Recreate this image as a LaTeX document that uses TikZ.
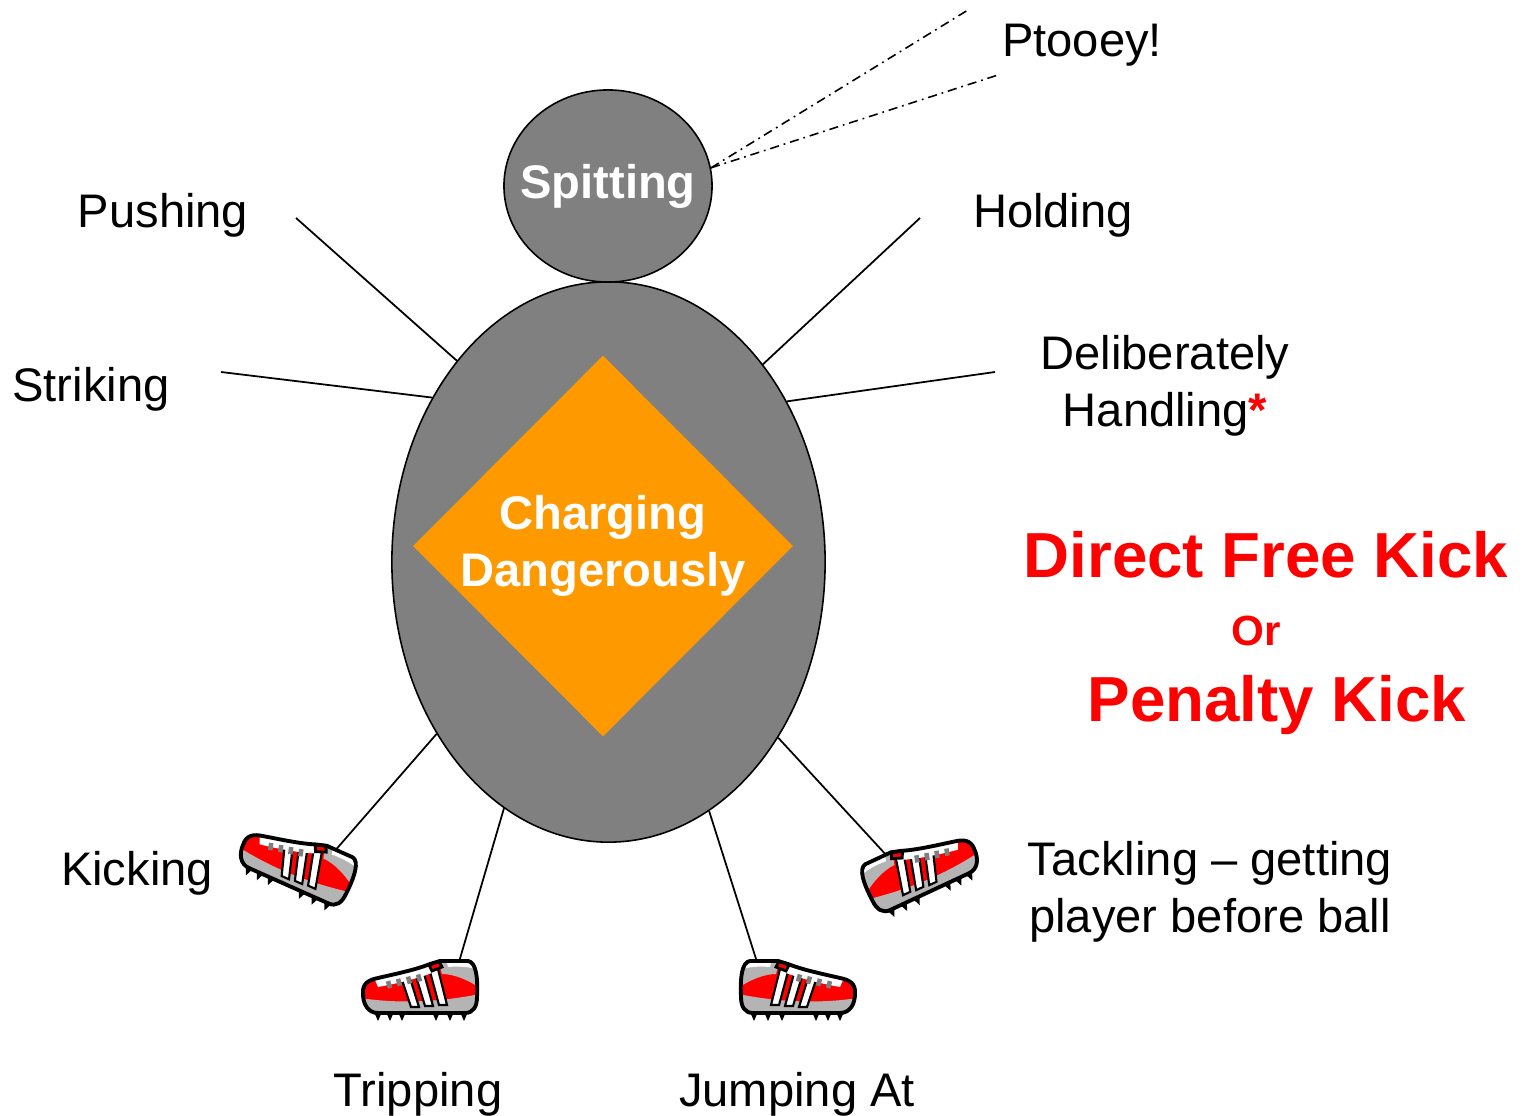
\documentclass[tikz,border=0pt]{standalone}
\usepackage{fontspec}
\setmainfont{Liberation Sans}
\usepackage{tikz}
\usetikzlibrary{shapes.geometric}

\definecolor{bodygrey}{HTML}{808080}
\definecolor{chargeorange}{HTML}{FF9900}
\definecolor{foulred}{HTML}{FF0000}
\definecolor{solegrey}{HTML}{B4B4B4}

\def\bootoutline{(-57,2) .. controls (-58,-8) and (-52,-12) .. (-42,-14)
    .. controls (-25,-18) and (-5,-22) .. (10,-28) -- (20,-31) -- (48,-31)
    .. controls (56,-30) and (58,-15) .. (57,5)
    .. controls (57,15) and (53,21) .. (45,21) -- (-42,21)
    .. controls (-52,21) and (-57,12) .. (-57,2) -- cycle}

\tikzset{
    blob/.style={ellipse, draw=black, fill=bodygrey, line width=0.45pt, inner sep=0pt},
    spoke/.style={line width=0.5pt},
    spit/.style={line width=0.45pt, dash pattern=on 2.6pt off 1.4pt on 0.5pt off 1.4pt},
    foul/.style={inner sep=0pt, align=center, font=\fontsize{13.4pt}{16.2pt}\selectfont},
    sanction/.style={inner sep=0pt, text=foulred, font=\fontsize{18.1pt}{20pt}\selectfont\bfseries},
    boot/.pic={
        \fill[foulred] \bootoutline;
        \begin{scope}
            \clip \bootoutline;
            % sole
            \fill[solegrey] (-60,6) .. controls (-20,12) and (20,10) .. (60,2) -- (60,30) -- (-60,30) -- cycle;
            % stripes
            \filldraw[fill=white, line width=0.6pt] (-19,-15) -- (-11,-17) -- (-1,15) -- (-9,15) -- cycle;
            \filldraw[fill=white, line width=0.6pt] (-5,-19) -- (3,-22) -- (13,14) -- (5,14) -- cycle;
            \filldraw[fill=white, line width=0.6pt] (9,-24) -- (17,-27) -- (27,13) -- (19,13) -- cycle;
            % laces
            \fill[white] (-45,-12) .. controls (-25,-16) and (-5,-22) .. (12,-30) -- (17,-21) .. controls (0,-14) and (-20,-9) .. (-42,-5) -- cycle;
            \foreach \l in {-32,-22,-12,-2}
                \draw[solegrey!70!black, line width=1.3pt] (\l,-14-0.22*\l-4) -- (\l+2,-14-0.22*\l+3);
            % heel
            \fill[solegrey] (18,-33) -- (60,-33) -- (60,-4) .. controls (48,-12) and (34,-18) .. (22,-18) -- cycle;
            \fill[white] (26,-33) -- (60,-33) -- (60,-22) .. controls (50,-25) and (40,-26) .. (28,-25) -- cycle;
        \end{scope}
        \filldraw[fill=foulred, line width=0.8pt] (9,-27) -- (19,-31) -- (22,-25) -- (12,-21) -- cycle;
        \draw[line width=1.1pt, line join=round] \bootoutline;
        % studs
        \foreach \s in {-42,-30,-18,16,30,44}
            \fill (\s-4,20) -- (\s+4,20) -- (\s,29) -- cycle;
    }
}

\begin{document}
\begin{tikzpicture}[x=0.01cm, y=-0.01cm]
        \useasboundingbox (0,0) rectangle (1530,1116);

        \node[blob, minimum width=4.33cm, minimum height=5.6cm] (body) at (608.5,562) {};
        \node[blob, minimum width=2.08cm, minimum height=1.92cm, inner sep=-5pt, text=white,
            font=\fontsize{13.4pt}{16pt}\selectfont\bfseries] (head) at (608,186) {Spitting};
        \node[diamond, fill=chargeorange, minimum width=3.8cm, minimum height=3.81cm,
            inner sep=-6pt, align=center, text=white,
            font=\fontsize{13.4pt}{16.2pt}\selectfont\bfseries] (charge) at (603,546) {Charging\\Dangerously};

        \coordinate (pushend) at (296,218);
        \coordinate (holdend) at (920,218);
        \coordinate (strikeend) at (221,372);
        \coordinate (handend) at (995,372);
        \coordinate (kickend) at (333,853);
        \coordinate (tripend) at (459,962);
        \coordinate (jumpend) at (757,962);
        \coordinate (tackleend) at (888,857);
        \coordinate (spitA) at (968,10);
        \coordinate (spitB) at (998,75);

        \draw[spoke] (body.127.1) -- (pushend);
        \draw[spoke] (body.52.9) -- (holdend);
        \draw[spoke] (body.137.6) -- (strikeend);
        \draw[spoke] (body.42.4) -- (handend);
        \draw[spoke] (body.225.2) -- (kickend);
        \draw[spoke] (body.247.2) -- (tripend);
        \draw[spoke] (body.292.8) -- (jumpend);
        \draw[spoke] (body.314.8) -- (tackleend);

        \draw[spit] (head.10) -- (spitA);
        \draw[spit] (head.10) -- (spitB);

        % boots
        \pic[rotate=-24] at (296,866) {boot};
        \pic at (420,992) {boot};
        \pic[xscale=-1] at (798,992) {boot};
        \pic[rotate=25, xscale=-1] at (922,872) {boot};

        \node[foul, anchor=base] (ptooey) at (1082,57) {Ptooey!};
        \node[foul, anchor=base] (pushing) at (163,228) {Pushing};
        \node[foul, anchor=base] (holding) at (1053,228) {Holding};
        \node[foul, anchor=base] (striking) at (91,402) {Striking};
        \node[foul] (handling) at (1165,386) {Deliberately\\Handling{\color{foulred}\bfseries *}};
        \node[foul, anchor=base] (kicking) at (137,886) {Kicking};
        \node[foul] (tackling) at (1210,892) {Tackling – getting\\player before ball};
        \node[foul, anchor=base] (tripping) at (418,1106) {Tripping};
        \node[foul, anchor=base] (jumping) at (797,1106) {Jumping At};

        % Sanction
        \node[sanction, anchor=base] (dfk) at (1266,578) {Direct Free Kick};
        \node[sanction, anchor=base, font=\fontsize{12pt}{14pt}\selectfont\bfseries] (or) at (1256,646) {Or};
        \node[sanction, anchor=base] (pk) at (1277,722) {Penalty Kick};

    \end{tikzpicture}
\end{document}
